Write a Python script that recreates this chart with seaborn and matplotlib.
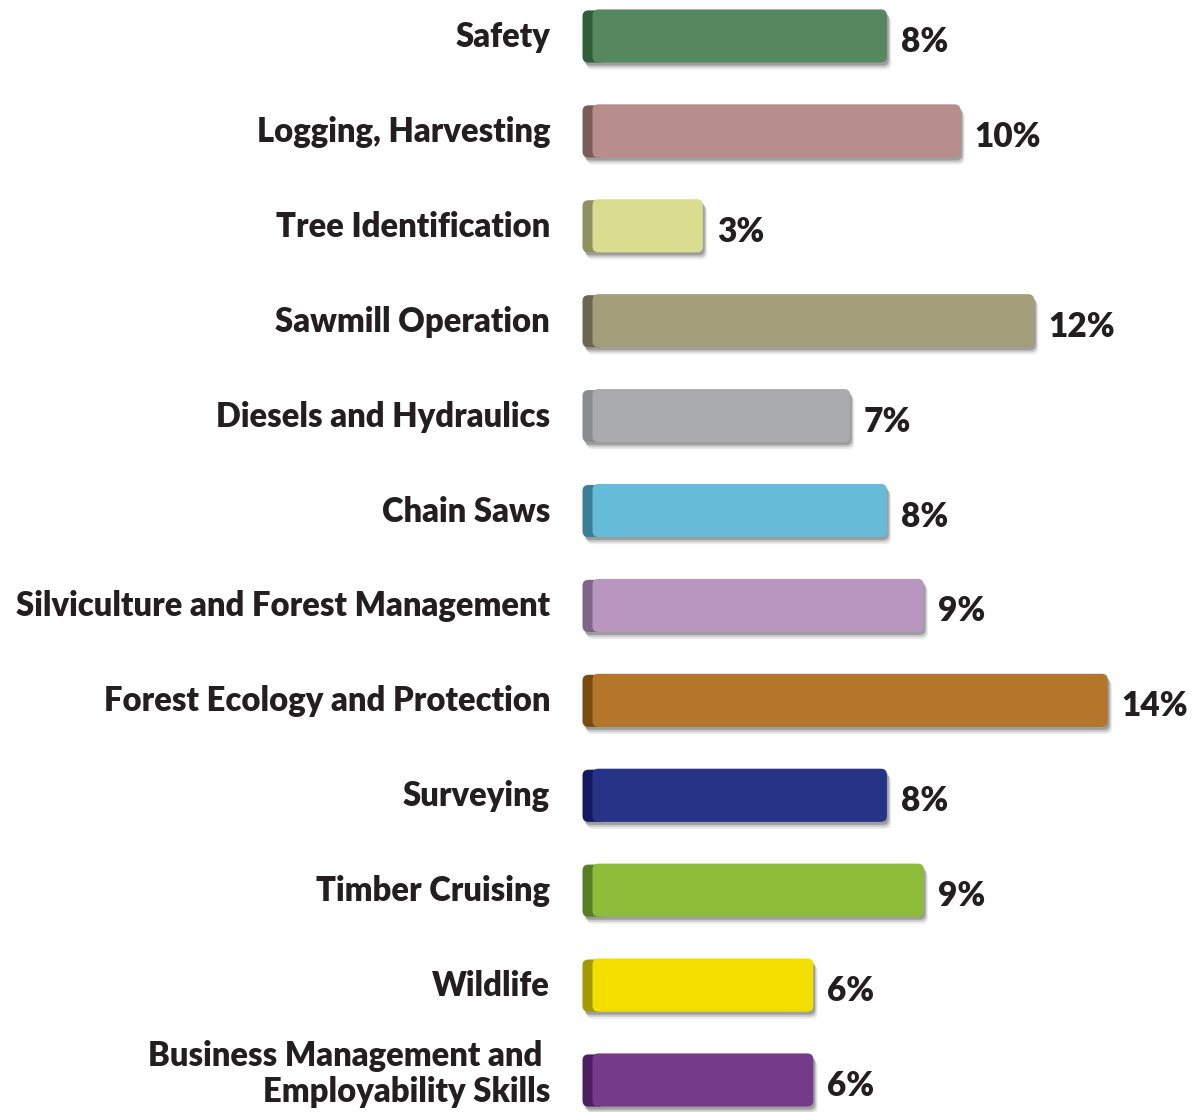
import numpy as np
import pandas as pd
import matplotlib
matplotlib.use('Agg')
import matplotlib.pyplot as plt
import seaborn as sns
from matplotlib.patches import FancyBboxPatch

# --- data ---
topics = ['Safety', 'Logging, Harvesting', 'Tree Identification', 'Sawmill Operation',
          'Diesels and Hydraulics', 'Chain Saws', 'Silviculture and Forest Management',
          'Forest Ecology and Protection', 'Surveying', 'Timber Cruising', 'Wildlife',
          'Business Management and \nEmployability Skills']
percent = [8, 10, 3, 12, 7, 8, 9, 14, 8, 9, 6, 6]
face_colors = ['#57875E', '#B78E8C', '#DADC8F', '#A39D7A', '#A9AAAC', '#66BBD8',
               '#B896BF', '#B3762A', '#263387', '#8FBC38', '#F2DF00', '#763A8A']
side_colors = ['#2F5E38', '#7C5C5A', '#8E9160', '#6B6650', '#8B8C8E', '#3A7F97',
               '#7E6688', '#7A4C10', '#141960', '#557F22', '#A29A00', '#4E1E63']

df = pd.DataFrame({'topic': topics, 'percent': percent})

sns.set_style('white')
plt.rcParams['font.family'] = ['Lato', 'DejaVu Sans']

fig = plt.figure(figsize=(11.96, 11.12), dpi=100)
ax = fig.add_axes([0, 0, 1, 1])

sns.barplot(data=df, y='topic', x='percent', hue='topic', palette=face_colors,
            legend=False, width=0.56, ax=ax)

# pixel scale: 0% at x=592.5px, 36.8 px per percent; rows 94.9 px apart
px_per_x = 36.8
px_per_y = 94.9
ax.set_xlim(-592.5 / px_per_x, (1196 - 592.5) / px_per_x)
ax.set_ylim(11 + 32 / px_per_y, -36 / px_per_y)
ax.axis('off')

aspect = px_per_x / px_per_y
rnd = 6 / px_per_x
side_w = 10 / px_per_x

for i, bar in enumerate(list(ax.patches)):
    x0, y0 = bar.get_x(), bar.get_y()
    w, h = bar.get_width(), bar.get_height()
    bar.set_visible(False)
    # soft drop shadow
    for k, a in zip([7, 5, 3], [0.10, 0.18, 0.30]):
        sh = FancyBboxPatch((x0 - side_w + k / px_per_x * 0.6, y0 + k / px_per_y),
                            w + side_w, h,
                            boxstyle=f'round,pad=0,rounding_size={rnd}',
                            mutation_aspect=aspect, fc='#3a3a3a', ec='none',
                            alpha=a, zorder=1)
        ax.add_patch(sh)
    # dark left side
    side = FancyBboxPatch((x0 - side_w, y0 + 1 / px_per_y), side_w + 2 * rnd, h - 1 / px_per_y,
                          boxstyle=f'round,pad=0,rounding_size={rnd}',
                          mutation_aspect=aspect, fc=side_colors[i], ec='none', zorder=2)
    ax.add_patch(side)
    face = FancyBboxPatch((x0, y0), w, h,
                          boxstyle=f'round,pad=0,rounding_size={rnd}',
                          mutation_aspect=aspect, fc=face_colors[i], ec='none', zorder=3)
    ax.add_patch(face)

    yc = y0 + h / 2
    dy = -6 if '\n' in topics[i] else 1
    ax.text(-42.5 / px_per_x, yc + dy / px_per_y, topics[i], ha='right', va='center',
            fontsize=23.6, fontweight='heavy', color='#231F20', linespacing=1.15)
    ax.text(x0 + w + 14 / px_per_x, yc + 6 / px_per_y, f'{percent[i]}%', ha='left',
            va='center', fontsize=24, fontweight='heavy', color='#231F20')

fig.savefig('out.png', dpi=100)
